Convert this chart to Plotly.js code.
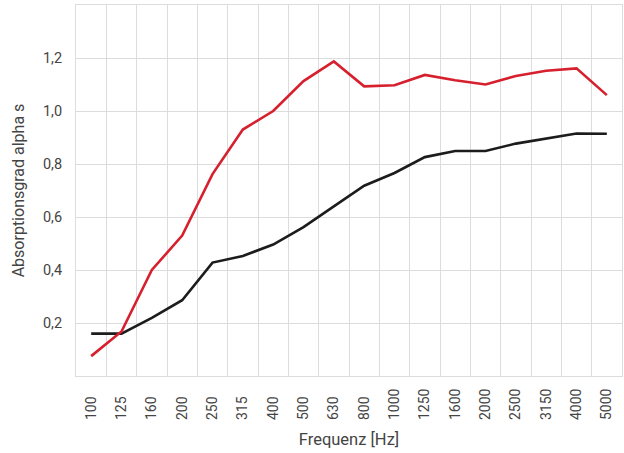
<!DOCTYPE html>
<html>
<head>
<meta charset="utf-8">
<script src="https://cdn.plot.ly/plotly-3.0.1.min.js"></script>
<style>html,body{margin:0;padding:0;background:#fff;}#chart{width:624px;height:453px;}</style>
</head>
<body>
<div id="chart"></div>
<script>
const categories = ["100","125","160","200","250","315","400","500","630","800","1000","1250","1600","2000","2500","3150","4000","5000"];
const redValues = [0.075,0.168,0.40,0.53,0.762,0.93,1.00,1.113,1.187,1.093,1.097,1.136,1.116,1.10,1.132,1.152,1.161,1.06];
const blackValues = [0.16,0.16,0.219,0.286,0.428,0.453,0.496,0.562,0.640,0.718,0.766,0.826,0.849,0.849,0.877,0.896,0.915,0.914];
const yTicks = [0.2,0.4,0.6,0.8,1.0,1.2];

const fam = "Roboto, 'DejaVu Sans Condensed', sans-serif";
const txt = "#444";

// pad short labels with a figure space so all labels start at the same baseline (bottom-aligned)
const xTickText = categories.map(c => c.length < 4 ? c + "\u2007" : c);

const traces = [
  {x: categories, y: blackValues, type: "scatter", mode: "lines",
   line: {color: "#1c1c1c", width: 2.6}, hoverinfo: "none"},
  {x: categories, y: redValues, type: "scatter", mode: "lines",
   line: {color: "#d6202e", width: 2.6}, hoverinfo: "none"}
];

const layout = {
  width: 624, height: 453,
  margin: {l: 76, r: 2, t: 5, b: 77},
  showlegend: false,
  separators: ", ",
  paper_bgcolor: "#fff", plot_bgcolor: "#fff",
  font: {family: fam, size: 14, color: txt},
  xaxis: {
    type: "category", categoryorder: "array", categoryarray: categories,
    tickvals: categories, ticktext: xTickText,
    range: [-0.5, 17.5], tickson: "boundaries",
    showgrid: true, gridcolor: "#dcdcdc", gridwidth: 1,
    showline: true, linecolor: "#dcdcdc", linewidth: 1, mirror: true,
    tickangle: -90, ticks: "", ticklen: 0, ticklabelstandoff: 6,
    tickfont: {family: fam, size: 14, color: txt},
    title: {text: "Frequenz [Hz]", font: {family: fam, size: 16.5, color: txt}, standoff: 14},
    zeroline: false, fixedrange: true
  },
  yaxis: {
    range: [0, 1.4], tickvals: yTicks, ticktext: yTicks.map(v => v.toFixed(1).replace(".", ",")),
    showgrid: true, gridcolor: "#dcdcdc", gridwidth: 1,
    showline: true, linecolor: "#dcdcdc", linewidth: 1, mirror: true,
    ticks: "outside", ticklen: 10, tickcolor: "rgba(0,0,0,0)",
    tickfont: {family: fam, size: 14.5, color: txt},
    title: {text: "Absorptionsgrad alpha s", font: {family: fam, size: 16, color: txt}, standoff: 14},
    zeroline: false, fixedrange: true
  }
};

Plotly.newPlot("chart", traces, layout, {displayModeBar: false, staticPlot: true});
</script>
</body>
</html>
